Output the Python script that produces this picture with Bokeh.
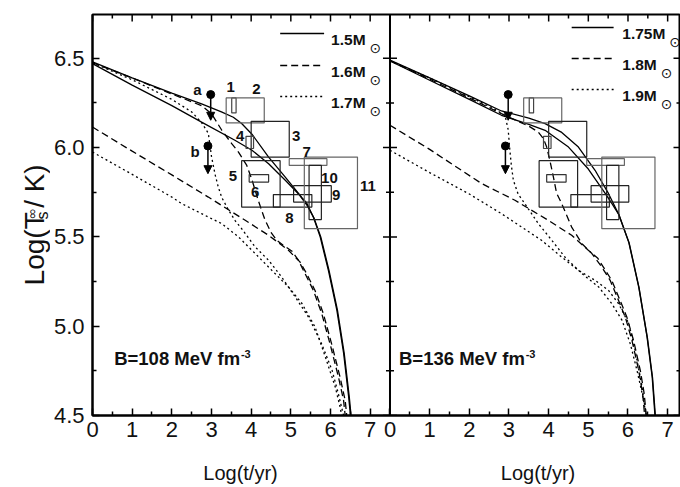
import math
from bokeh.plotting import figure
from bokeh.layouts import column, row
from bokeh.models import (Range1d, LinearAxis, FixedTicker, Span, Label, Arrow,
                          NormalHead, ColumnDataSource)
from bokeh.core.properties import value
from bokeh.embed import file_html
from bokeh.resources import INLINE

# ---------------- data ----------------
x_tick_vals = [0, 1, 2, 3, 4, 5, 6, 7]
x_tick_text = ["0", "1", "2", "3", "4", "5", "6", "7"]
x_minor_vals = [0.5, 1.5, 2.5, 3.5, 4.5, 5.5, 6.5]
y_tick_vals = [4.5, 5.0, 5.5, 6.0, 6.5]
y_tick_text = ["4.5", "5.0", "5.5", "6.0", "6.5"]
y_minor_vals = [4.75, 5.25, 5.75, 6.25]

panel_titles = ["B=108 MeV fm", "B=136 MeV fm"]
legend_left = ["1.5M", "1.6M", "1.7M"]
legend_right = ["1.75M", "1.8M", "1.9M"]
x_title = "Log(t/yr)"
y_title_parts = ["Log(T", "s", "\u221e", " / K)"]

# B = 108 MeV fm^-3 (left panel)
L_s1_x = [0, 1, 2, 2.75, 3.25, 3.55, 3.76, 4.02, 4.44, 4.86, 5.28, 5.4, 5.57, 5.74, 5.95, 6.16, 6.33, 6.46, 6.53]
L_s1_y = [6.48, 6.39, 6.305, 6.245, 6.2, 6.17, 6.135, 6.075, 5.947, 5.835, 5.72, 5.69, 5.61, 5.50, 5.31, 5.09, 4.85, 4.60, 4.44]
L_s2_x = [0, 1, 2, 2.75, 3.59, 4.02, 4.44, 4.86, 5.19, 5.4, 5.585, 5.755, 5.965, 6.175, 6.345, 6.475, 6.545]
L_s2_y = [6.47, 6.35, 6.235, 6.143, 6.041, 5.985, 5.91, 5.817, 5.742, 5.68, 5.605, 5.50, 5.31, 5.09, 4.85, 4.60, 4.44]
L_d1_x = [0, 1, 2, 2.75, 3.0, 3.26, 3.51, 3.68, 3.89, 4.02, 4.17, 4.34, 4.5, 4.65, 4.8, 5.03, 5.19, 5.36, 5.57, 5.78, 5.99, 6.2, 6.33, 6.37, 6.4]
L_d1_y = [6.475, 6.39, 6.30, 6.235, 6.19, 6.097, 6.022, 5.975, 5.90, 5.82, 5.71, 5.60, 5.525, 5.48, 5.455, 5.42, 5.37, 5.294, 5.20, 5.07, 4.90, 4.716, 4.585, 4.5, 4.44]
L_d2_x = [0, 1, 2, 2.92, 3.85, 4.44, 4.94, 5.23, 5.4, 5.61, 5.82, 6.03, 6.24, 6.37, 6.41, 6.44]
L_d2_y = [6.115, 5.98, 5.847, 5.723, 5.593, 5.509, 5.425, 5.36, 5.294, 5.20, 5.07, 4.90, 4.716, 4.585, 4.5, 4.44]
L_t1_x = [0, 1, 2, 2.5, 2.75, 2.92, 3.0, 3.09, 3.17, 3.26, 3.43, 3.6, 3.76, 4.1, 4.44, 4.77, 5.11, 5.45, 5.78, 6.04, 6.2, 6.33, 6.37]
L_t1_y = [6.475, 6.38, 6.27, 6.2, 6.14, 6.08, 5.95, 5.85, 5.78, 5.72, 5.65, 5.59, 5.546, 5.444, 5.369, 5.275, 5.164, 5.05, 4.90, 4.753, 4.62, 4.5, 4.45]
L_t2_x = [0, 1, 2, 2.25, 2.75, 3.26, 3.68, 4.1, 4.52, 4.94, 5.28, 5.61, 5.87, 6.12, 6.25, 6.3]
L_t2_y = [5.975, 5.85, 5.723, 5.686, 5.63, 5.574, 5.50, 5.407, 5.313, 5.22, 5.127, 4.996, 4.828, 4.66, 4.54, 4.47]

# B = 136 MeV fm^-3 (right panel)
R_s1_x = [0, 1, 2, 2.81, 3.5, 3.91, 4.33, 4.75, 5.17, 5.51, 5.76, 6.02, 6.27, 6.48, 6.61, 6.68, 6.72]
R_s1_y = [6.49, 6.39, 6.29, 6.205, 6.165, 6.134, 6.085, 6.003, 5.873, 5.742, 5.63, 5.47, 5.22, 4.94, 4.716, 4.5, 4.4]
R_s2_x = [0, 1, 2, 2.81, 3.5, 3.91, 4.5, 5.0, 5.43, 5.6, 5.77, 6.03, 6.28, 6.49, 6.62, 6.69, 6.73]
R_s2_y = [6.485, 6.377, 6.27, 6.181, 6.13, 6.097, 6.003, 5.88, 5.742, 5.685, 5.625, 5.465, 5.215, 4.935, 4.71, 4.5, 4.4]
R_d1_x = [0, 1, 2, 2.81, 3.5, 3.74, 3.87, 3.95, 4.03, 4.12, 4.2, 4.33, 4.58, 4.84, 5.09, 5.34, 5.55, 5.76, 5.93, 6.1, 6.27, 6.37, 6.42, 6.45]
R_d1_y = [6.487, 6.383, 6.278, 6.19, 6.12, 6.087, 6.05, 6.003, 5.929, 5.835, 5.745, 5.686, 5.555, 5.462, 5.407, 5.331, 5.257, 5.145, 5.052, 4.921, 4.753, 4.62, 4.5, 4.44]
R_d2_x = [0, 1, 2.3, 3.15, 3.99, 4.58, 5.0, 5.24, 5.38, 5.59, 5.8, 5.97, 6.14, 6.31, 6.41, 6.46, 6.49]
R_d2_y = [6.125, 5.99, 5.80, 5.705, 5.593, 5.509, 5.425, 5.38, 5.331, 5.257, 5.145, 5.052, 4.921, 4.753, 4.62, 4.5, 4.44]
R_t1_x = [0, 1, 2, 2.6, 2.9, 2.98, 3.02, 3.06, 3.11, 3.23, 3.4, 3.74, 4.08, 4.41, 4.84, 5.26, 5.59, 5.85, 6.06, 6.23, 6.38, 6.46, 6.5]
R_t1_y = [6.485, 6.39, 6.285, 6.22, 6.18, 6.10, 5.99, 5.90, 5.817, 5.74, 5.686, 5.574, 5.481, 5.387, 5.294, 5.22, 5.127, 5.033, 4.90, 4.75, 4.6, 4.5, 4.45]
R_t2_x = [0, 1, 2, 2.81, 3.32, 3.82, 4.33, 4.75, 5.17, 5.51, 5.76, 6.02, 6.18, 6.34, 6.46, 6.52]
R_t2_y = [5.985, 5.86, 5.74, 5.63, 5.555, 5.481, 5.387, 5.313, 5.257, 5.20, 5.127, 5.015, 4.865, 4.678, 4.5, 4.42]

# observed sources (error boxes), numbered 1..11
box_id = ["1", "2", "3", "4", "5", "6", "7", "8", "9", "10", "11"]
box_x0 = [3.51, 3.37, 4.00, 3.87, 3.76, 3.95, 4.96, 4.56, 5.07, 5.46, 5.34]
box_x1 = [3.62, 4.33, 4.96, 4.06, 4.73, 4.44, 5.91, 5.53, 6.02, 5.77, 6.68]
box_y0 = [6.194, 6.138, 5.947, 5.995, 5.667, 5.807, 5.90, 5.667, 5.695, 5.597, 5.546]
box_y1 = [6.278, 6.278, 6.147, 6.063, 5.927, 5.849, 5.938, 5.737, 5.787, 5.90, 5.947]

# upper limits a, b
lim_id = ["a", "b"]
lim_x = [2.98, 2.91]
lim_y = [6.297, 6.009]
lim_y_end = [6.153, 5.854]

# ---------------- layout / style ----------------
WY = 50                   # width of the y-title strip
WM, HM = 680 - WY, 450    # main figure
HX = 36                   # x-title strip height
F_LEFT, F_TOP, F_BOT = 91, 14, 415   # frame edges in page px
PXU_X = 298 / 7.5
PXU_Y = 178.6
X_OFF = 7.5               # right panel offset on the shared x scale
X_MAX = (680 - F_LEFT) / PXU_X
Y_MIN = 4.5
Y_MAX = Y_MIN + (F_BOT - F_TOP) / PXU_Y
FONT = "Liberation Sans"
INK = "#111"


def fx(px):  # page px -> data x
    return (px - F_LEFT) / PXU_X


def fy(py):  # page px -> data y
    return Y_MAX - (py - F_TOP) / PXU_Y


box_colors = ["#444", "#666", "#222", "#444", "#222", "#333", "#666", "#222", "#222", "#222", "#666"]
box_label_px = [(229.5, 86), (255.3, 88), (295, 135), (239, 135), (231.7, 175), (254, 191),
                (305.5, 151.5), (288.3, 217), (335, 194), (328.3, 177), (367, 185)]
lim_label_px = [(196, 89), (193.7, 151)]

p = figure(width=WM, height=HM, x_range=Range1d(0, X_MAX), y_range=Range1d(Y_MIN, Y_MAX),
           output_backend="svg", toolbar_location=None, x_axis_type=None, y_axis_type=None,
           min_border_left=F_LEFT - WY, min_border_right=0, min_border_top=F_TOP,
           min_border_bottom=HM - F_BOT)
p.outline_line_color = "black"
p.outline_line_width = 2
p.background_fill_color = "white"
p.border_fill_color = "white"

xt_major = x_tick_vals + [v + X_OFF for v in x_tick_vals]
xt_minor = x_minor_vals + [v + X_OFF for v in x_minor_vals]
x_over = {}
for v, s in zip(x_tick_vals, x_tick_text):
    x_over[v] = s
    x_over[v + X_OFF] = s
y_over = {v: s for v, s in zip(y_tick_vals, y_tick_text)}


def style_axis(ax):
    ax.axis_line_width = 2
    ax.axis_line_color = "black"
    ax.major_tick_in = 7
    ax.major_tick_out = 0
    ax.minor_tick_in = 4
    ax.minor_tick_out = 0
    ax.major_tick_line_width = 1.5
    ax.minor_tick_line_width = 1.5
    ax.major_label_text_font = FONT
    ax.major_label_text_color = INK
    ax.major_label_text_font_size = "22px"


xax = LinearAxis(ticker=FixedTicker(ticks=xt_major, minor_ticks=xt_minor),
                 major_label_overrides=x_over)
style_axis(xax)
xax.major_label_standoff = 6
p.add_layout(xax, "below")
yax = LinearAxis(ticker=FixedTicker(ticks=y_tick_vals, minor_ticks=y_minor_vals),
                 major_label_overrides=y_over)
style_axis(yax)
yax.major_label_standoff = 8
p.add_layout(yax, "left")

# inward ticks on the top edge, right edge and the panel divider
p.add_layout(Span(location=X_OFF, dimension="height", line_color="black", line_width=2))
p.scatter(xt_major, [Y_MAX] * len(xt_major), marker="dash", angle=math.pi / 2, size=14,
          line_color="black", line_width=1.5)
p.scatter(xt_minor, [Y_MAX] * len(xt_minor), marker="dash", angle=math.pi / 2, size=8,
          line_color="black", line_width=1.5)
for xe in (X_OFF, X_MAX):
    p.scatter([xe] * len(y_tick_vals), y_tick_vals, marker="dash", size=14,
              line_color="black", line_width=1.5)
    p.scatter([xe] * len(y_minor_vals), y_minor_vals, marker="dash", size=8,
              line_color="black", line_width=1.5)

DASH = "7 4"
DOT = "2 3"
LW = 1.3

curves = [
    (L_s1_x, L_s1_y, 0, "solid"), (L_s2_x, L_s2_y, 0, "solid"),
    (L_d1_x, L_d1_y, 0, DASH), (L_d2_x, L_d2_y, 0, DASH),
    (L_t1_x, L_t1_y, 0, DOT), (L_t2_x, L_t2_y, 0, DOT),
    (R_s1_x, R_s1_y, X_OFF, "solid"), (R_s2_x, R_s2_y, X_OFF, "solid"),
    (R_d1_x, R_d1_y, X_OFF, DASH), (R_d2_x, R_d2_y, X_OFF, DASH),
    (R_t1_x, R_t1_y, X_OFF, DOT), (R_t2_x, R_t2_y, X_OFF, DOT),
]
for xs, ys, off, dash in curves:
    p.line([v + off for v in xs], ys, line_color="black", line_width=LW, line_dash=dash)

# error boxes and upper limits in both panels
for off in (0, X_OFF):
    src = ColumnDataSource(dict(l=[v + off for v in box_x0], r=[v + off for v in box_x1],
                                b=box_y0, t=box_y1, c=box_colors))
    p.quad(left="l", right="r", bottom="b", top="t", source=src, fill_alpha=0,
           line_color="c", line_width=1.2)
    p.scatter([v + off for v in lim_x], lim_y, size=8, color="black")
    asrc = ColumnDataSource(dict(x=[v + off for v in lim_x], y=lim_y, ye=lim_y_end))
    p.add_layout(Arrow(end=NormalHead(size=8, fill_color="black", line_color="black"),
                       x_start="x", y_start="y", x_end="x", y_end="ye", source=asrc,
                       line_width=1.5, line_color="black"))

# labels of boxes and limits (left panel)
for ids, pos in ((box_id, box_label_px), (lim_id, lim_label_px)):
    p.text([fx(a) for a, b in pos], [fy(b) for a, b in pos], text=ids,
           text_font=value(FONT), text_font_style="bold", text_font_size="15px",
           text_align="center", text_baseline="middle", text_color=INK)


# legends
def legend(labels, x0, x1, tx, rows):
    fs = 15.5
    for lab, dash, ry in zip(labels, ["solid", DASH, DOT], rows):
        p.segment(x0=[fx(x0)], y0=[fy(ry)], x1=[fx(x1)], y1=[fy(ry)],
                  line_color="black", line_width=LW, line_dash=dash)
        p.add_layout(Label(x=fx(tx), y=fy(ry + 6), text=lab, text_font=FONT,
                           text_font_style="bold", text_font_size=f"{fs}px",
                           text_baseline="alphabetic", text_color=INK))
        wid = (0.556 * (len(lab) - 2) + 0.278 + 0.833) * fs
        p.add_layout(Label(x=fx(tx + wid + 4), y=fy(ry + 14), text="\u2299",
                           text_font="DejaVu Sans", text_font_size="14px",
                           text_baseline="alphabetic", text_color=INK))


legend(legend_left, 279, 323, 330, [33, 65, 96])
legend(legend_right, 571, 613, 621.7, [27, 58, 89])

# panel titles with superscript
for title, tx in zip(panel_titles, (112.7, 398)):
    p.add_layout(Label(x=fx(tx), y=fy(368), text=title, text_font=FONT,
                       text_font_style="bold", text_font_size="18.5px", text_color=INK))
    p.add_layout(Label(x=fx(tx + 6.808 * 18.5 + 1), y=fy(357), text="-3", text_font=FONT,
                       text_font_style="bold", text_font_size="11px", text_color=INK))


def strip(w, h):
    f = figure(width=w, height=h, x_range=Range1d(0, w), y_range=Range1d(0, h),
               output_backend="svg", toolbar_location=None, x_axis_type=None,
               y_axis_type=None, min_border=0)
    f.outline_line_color = None
    f.background_fill_color = "white"
    f.border_fill_color = "white"
    return f


# y title strip (page coordinates -> strip coordinates)
py_ = strip(WY, HM)
A = math.pi / 2
for txt, bx, by, fs, font in zip(y_title_parts, (33.5, 41.5, 31.5, 33.5),
                                 (304, 230, 230, 217),
                                 ("28px", "16px", "14px", "28px"),
                                 (FONT, FONT, "DejaVu Sans", FONT)):
    py_.text([bx], [HM - by], text=[txt], angle=A, text_font=value(font),
             text_font_size=fs, text_align="left", text_baseline="alphabetic",
             text_color=INK)

# x title strip
px_ = strip(680, HX)
px_.text([240, 537.5], [HX - (472 - HM)] * 2, text=[x_title, x_title],
         text_font=value(FONT), text_font_size="20px", text_align="center",
         text_baseline="middle", text_color=INK)

layout = column(row(py_, p, spacing=0), px_, spacing=0)
open("out.html", "w").write(file_html(layout, INLINE))
